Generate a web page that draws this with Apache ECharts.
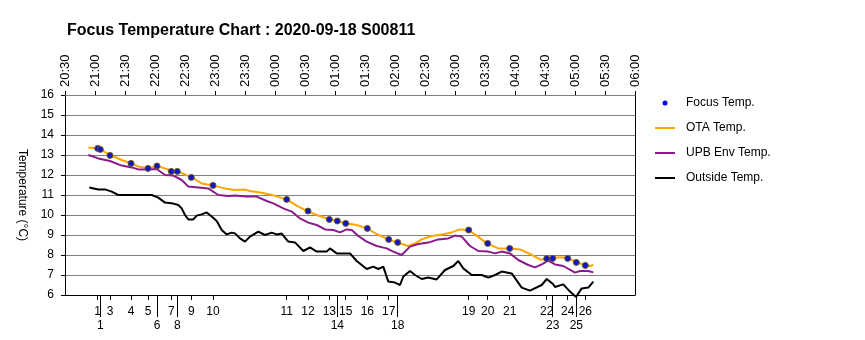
<!DOCTYPE html>
<html>
<head>
<meta charset="utf-8">
<script src="https://cdn.jsdelivr.net/npm/echarts@6/dist/echarts.min.js"></script>
<style>
html,body{margin:0;padding:0;background:#fff;}
#chart{width:865px;height:340px;}
</style>
</head>
<body>
<div id="chart"></div>
<script>
// Time is expressed in minutes after 20:30
var timeTicks = ["20:30","21:00","21:30","22:00","22:30","23:00","23:30","00:00","00:30","01:00",
  "01:30","02:00","02:30","03:00","03:30","04:00","04:30","05:00","05:30","06:00"];

var focusLabels  = ["1","1","3","4","5","6","7","8","9","10","11","12","13","14","15","16","17","18","19","20","21","22","23","24","25","26"];
var focusMinutes = [32.7,35.3,45,66,83,92,106.3,112.3,126.3,148,221.7,243,264.3,272.3,280.7,302.3,323.7,332.7,403.7,422.7,444.7,481.7,487.7,502.7,511.3,520.3];
var focusTemp    = [13.33,13.28,12.98,12.58,12.33,12.45,12.18,12.18,11.88,11.48,10.78,10.2,9.78,9.7,9.58,9.33,8.78,8.63,9.25,8.58,8.33,7.82,7.83,7.83,7.63,7.48];

var otaMinutes = [23.3,33.3,45,56.7,66.7,73.3,83.3,91.7,100,106.7,113.3,126.7,136.7,148.3,160,170,180,185,195,205,215,221.7,231.7,243.3,251.7,263.3,271.7,281.7,291.7,301.7,311.7,323.3,335,343.3,350,356.7,366.7,376.7,386.7,395,403.3,411.7,421.7,433.3,445,455,465,475,481.7,488.3,501.7,511.7,520,525,528.3];
var otaTemp    = [13.38,13.33,13.0,12.75,12.58,12.42,12.33,12.45,12.33,12.2,12.17,11.88,11.58,11.47,11.33,11.25,11.27,11.2,11.13,11.03,10.88,10.78,10.47,10.17,10.0,9.8,9.7,9.58,9.5,9.33,9.05,8.78,8.58,8.45,8.58,8.78,8.95,9.03,9.13,9.28,9.25,8.97,8.58,8.33,8.33,8.28,8.05,7.78,7.78,7.88,7.87,7.63,7.5,7.45,7.5];

var upbMinutes = [23.3,33.3,45,56.7,66.7,73.3,83.3,91.7,100,108.3,116.7,123.3,133.3,143.3,153.3,163.3,170,175,181.7,191.7,201.7,208.3,218.3,226.7,235,243.3,251.7,260,268.3,275,281.7,286.7,293.3,301.7,311.7,321.7,328.3,336.7,345,353.3,363.3,373.3,383.3,390,396.7,405,413.3,423.3,430,436.7,445,453.3,463.3,470,476.7,483.3,490,498.3,510,515,523.3,528.3];
var upbTemp    = [13.0,12.83,12.7,12.47,12.38,12.28,12.28,12.3,12.0,11.97,11.75,11.42,11.38,11.33,11.0,10.95,10.97,10.95,10.92,10.92,10.7,10.58,10.33,10.17,9.83,9.62,9.5,9.28,9.25,9.13,9.28,9.25,8.95,8.67,8.45,8.33,8.17,8.0,8.42,8.55,8.62,8.78,8.83,8.97,8.92,8.45,8.2,8.17,8.08,8.17,8.08,7.75,7.5,7.38,7.53,7.72,7.53,7.45,7.12,7.2,7.2,7.13];

var outMinutes = [24.3,33.3,40,46.7,53.3,70,86.7,93.3,100,108.3,113.3,116.7,120,123.3,128.3,131.7,136.7,141.7,146.7,151.7,156.7,161.7,166.7,170,175,180,185,193.3,200,206.7,211.7,216.7,223.3,230,238.3,245,251.7,261.7,265,271.7,285,291.7,301.7,308.3,313.3,318.3,323.3,330,335,338.3,345,350,356.7,363.3,371.7,380,388.3,393.3,398.3,406.7,416.7,423.3,430,436.7,446.7,456.7,465,476.7,481.7,488,490,498.3,505,511,516.7,523.3,528.3];
var outTemp    = [11.38,11.28,11.28,11.17,11.0,11.0,11.0,10.87,10.62,10.57,10.5,10.33,10.0,9.78,9.78,9.97,10.03,10.13,9.92,9.7,9.25,9.03,9.12,9.08,8.83,8.67,8.92,9.17,9.0,9.12,9.03,9.07,8.67,8.63,8.2,8.38,8.17,8.17,8.33,8.08,8.08,7.7,7.3,7.42,7.3,7.42,6.67,6.62,6.5,6.92,7.2,7.0,6.8,6.87,6.78,7.25,7.45,7.7,7.33,7.0,7.0,6.87,7.0,7.17,7.08,6.37,6.22,6.5,6.8,6.55,6.4,6.53,6.17,5.9,6.33,6.37,6.67];

function pairs(xs, ys) { return xs.map(function (x, i) { return [x, ys[i]]; }); }

// split focus labels into two rows so that close markers do not collide
var row1Vals = [], row1Lab = [], row2Vals = [], row2Lab = [];
var lastRow1 = -1e9;
focusMinutes.forEach(function (m, i) {
  if (m - lastRow1 < 11) { row2Vals.push(m); row2Lab.push(focusLabels[i]); }
  else { row1Vals.push(m); row1Lab.push(focusLabels[i]); lastRow1 = m; }
});
function labelFor(vals, labs) {
  return function (v) {
    var best = 0, d = 1e9;
    for (var i = 0; i < vals.length; i++) { var dd = Math.abs(vals[i] - v); if (dd < d) { d = dd; best = i; } }
    return labs[best];
  };
}

var FONT = "'Liberation Sans', Arial, sans-serif";
var LINE_ICON = 'path://M0,0 L20,0 L20,2 L0,2 Z';
var chart = echarts.init(document.getElementById('chart'), null, {renderer: 'canvas'});
chart.setOption({
  animation: false,
  backgroundColor: '#ffffff',
  textStyle: {fontFamily: FONT, color: '#000'},
  title: {
    text: 'Focus Temperature Chart : 2020-09-18 S00811',
    left: 67, top: 23, padding: 0,
    textStyle: {fontSize: 16, fontWeight: 'bold', color: '#000', fontFamily: FONT}
  },
  legend: {
    orient: 'vertical', left: 655, top: 97, padding: 0,
    itemWidth: 20, itemHeight: 5, itemGap: 13,
    textStyle: {fontSize: 12, color: '#000', fontFamily: FONT, padding: [0, 0, 0, 6]},
    data: [
      {name: 'Focus Temp.', itemStyle: {color: '#0000ee', borderWidth: 0}},
      {name: 'OTA Temp.', icon: LINE_ICON, itemStyle: {color: '#ffa500'}},
      {name: 'UPB Env Temp.', icon: LINE_ICON, itemStyle: {color: '#8b1a8b'}},
      {name: 'Outside Temp.', icon: LINE_ICON, itemStyle: {color: '#000'}}
    ]
  },
  grid: {left: 65, right: 230, top: 95, bottom: 45, containLabel: false},
  xAxis: [
    {
      type: 'value', position: 'top', min: 0, max: 570, interval: 30,
      axisLine: {show: true, lineStyle: {color: '#808080', width: 1}},
      axisTick: {show: true, length: 4, lineStyle: {color: '#000'}},
      axisLabel: {rotate: -90, fontSize: 13, color: '#000', margin: 8, fontFamily: FONT,
        formatter: function (v) { return timeTicks[Math.round(v / 30)]; }},
      splitLine: {show: false}
    },
    {
      type: 'value', position: 'bottom', min: 0, max: 570,
      axisLine: {show: true, onZero: false, lineStyle: {color: '#000', width: 1}},
      axisTick: {show: true, length: 5, customValues: row1Vals, lineStyle: {color: '#000'}},
      axisLabel: {show: true, customValues: row1Vals, fontSize: 12, color: '#000', margin: 11, fontFamily: FONT,
        formatter: labelFor(row1Vals, row1Lab)},
      splitLine: {show: false}
    },
    {
      type: 'value', position: 'bottom', min: 0, max: 570,
      axisLine: {show: false, onZero: false},
      axisTick: {show: true, length: 22, customValues: row2Vals, lineStyle: {color: '#000'}},
      axisLabel: {show: true, customValues: row2Vals, fontSize: 12, color: '#000', margin: 25, fontFamily: FONT,
        formatter: labelFor(row2Vals, row2Lab)},
      splitLine: {show: false}
    }
  ],
  yAxis: [
    {
      type: 'value', min: 6, max: 16, interval: 1,
      name: 'Temperature (\u00B0C)', nameLocation: 'middle', nameRotate: -90, nameGap: 37,
      nameTextStyle: {fontSize: 12, color: '#000', fontFamily: FONT},
      axisLine: {show: true, onZero: false, lineStyle: {color: '#000'}},
      axisTick: {show: true, length: 4, lineStyle: {color: '#000'}},
      axisLabel: {fontSize: 12, color: '#000', margin: 11, fontFamily: FONT},
      splitLine: {show: true, lineStyle: {color: '#808080', width: 1}}
    },
    {
      type: 'value', position: 'right', min: 6, max: 16, interval: 1,
      axisLine: {show: true, onZero: false, lineStyle: {color: '#000'}},
      axisTick: {show: false}, axisLabel: {show: false}, splitLine: {show: false}
    }
  ],
  series: [
    {
      name: 'OTA Temp.', type: 'line', xAxisIndex: 0, yAxisIndex: 0,
      data: pairs(otaMinutes, otaTemp), showSymbol: false, symbol: 'none',
      lineStyle: {color: '#ffa500', width: 2}, itemStyle: {color: '#ffa500'}, z: 3
    },
    {
      name: 'UPB Env Temp.', type: 'line', xAxisIndex: 0, yAxisIndex: 0,
      data: pairs(upbMinutes, upbTemp), showSymbol: false, symbol: 'none',
      lineStyle: {color: '#8b1a8b', width: 2}, itemStyle: {color: '#8b1a8b'}, z: 3
    },
    {
      name: 'Outside Temp.', type: 'line', xAxisIndex: 0, yAxisIndex: 0,
      data: pairs(outMinutes, outTemp), showSymbol: false, symbol: 'none', clip: false,
      lineStyle: {color: '#000', width: 2}, itemStyle: {color: '#000'}, z: 3
    },
    {
      name: 'Focus Temp.', type: 'scatter', xAxisIndex: 0, yAxisIndex: 0,
      data: pairs(focusMinutes, focusTemp), symbol: 'circle', symbolSize: 6,
      itemStyle: {color: '#1414c8', borderColor: '#6b5a1e', borderWidth: 1, opacity: 1}, z: 5
    }
  ]
});
</script>
</body>
</html>
